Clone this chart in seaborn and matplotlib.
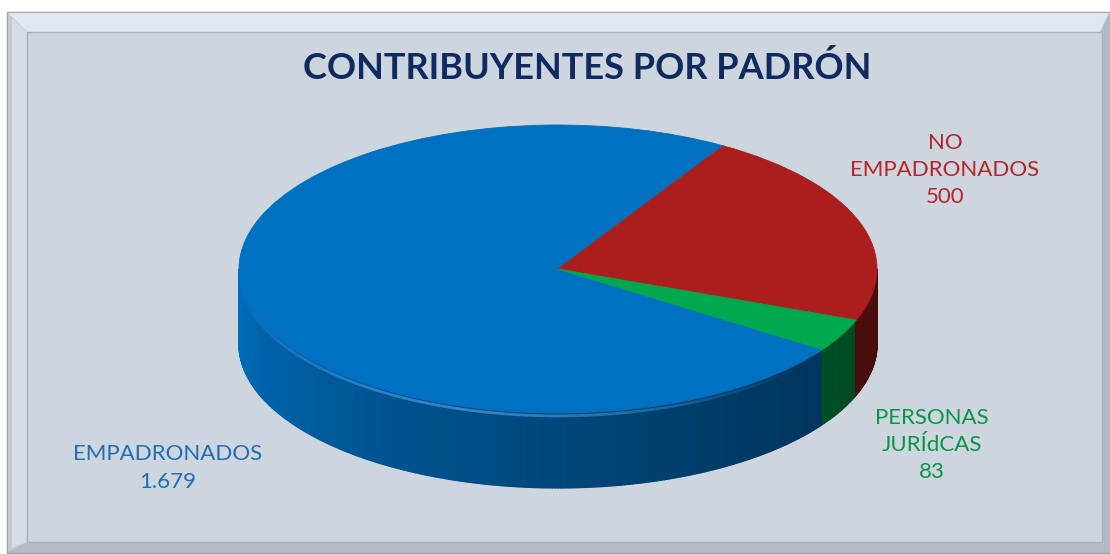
import numpy as np
import matplotlib
matplotlib.use("Agg")
import matplotlib.pyplot as plt
from matplotlib.patches import Rectangle, Polygon
from matplotlib.collections import PolyCollection, LineCollection
from matplotlib.colors import to_rgb
import seaborn as sns

# ---------------- data ----------------
categories = ["EMPADRONADOS", "NO\nEMPADRONADOS", "PERSONAS\nJURÍdCAS"]
values = [1679, 500, 83]
title = "CONTRIBUYENTES POR PADRÓN"

# ---------------- style ----------------
top_colors = sns.color_palette(["#0070C0", "#AC1E1E", "#00A84F"])
text_colors = ["#1F6DB5", "#B8232A", "#0B9543"]
label_pos = [(168, 468), (945, 170), (932, 445)]  # label centres, pixels

sns.set_theme(style="white")
plt.rcParams['font.family'] = ['Lato', 'DejaVu Sans']

W, H = 1110, 554
fig = plt.figure(figsize=(W / 100, H / 100), dpi=100)
fig.patch.set_facecolor("white")

bg = fig.add_axes([0, 0, 1, 1])
bg.set_xlim(0, W)
bg.set_ylim(H, 0)
bg.axis('off')

# frame with bevel
bg.add_patch(Rectangle((7, 12), 1103, 541, facecolor="#b3bbc5", edgecolor="#9aa2ac", lw=1))
bg.add_patch(Polygon([(8, 13), (1109, 13), (1100, 32), (27, 32)], closed=True,
                     facecolor="#e3e8ee", edgecolor="none"))
bg.add_patch(Polygon([(8, 13), (27, 32), (27, 542), (8, 552)], closed=True,
                     facecolor="#c3cad3", edgecolor="none"))
bg.add_patch(Polygon([(12, 18), (27, 32), (27, 542), (12, 548)], closed=True,
                     facecolor="#d6dce4", edgecolor="none"))
bg.add_patch(Rectangle((27, 32), 1075, 510, facecolor="#cdd5df", edgecolor="#a9b1bb", lw=1))

# ---------------- pie geometry ----------------
cx, cy, ax_px, by_px = 558, 269, 319, 144
xl = (-1.05, 1.05)
yl = (-1.72, 1.05)
left = cx + xl[0] * ax_px
right = cx + xl[1] * ax_px
top = cy - yl[1] * by_px
bottom = cy - yl[0] * by_px
pax = fig.add_axes([left / W, 1 - bottom / H, (right - left) / W, (bottom - top) / H])
pax.set_facecolor('none')

start = -34
thick = 0.52
total = float(sum(values))
cum = np.cumsum(values) / total * 360.0


def shade(c, f):
    k = 1 - 0.85 * f + 0.25 * f * f
    r, g, b = to_rgb(c)
    return (r * k, g * k, b * k)


# side wall, visible front half (-180..0 deg)
phis = np.linspace(-180, 0, 361)
rr = np.radians(phis)
outline = np.concatenate([np.column_stack([np.cos(rr), np.sin(rr)]),
                          np.column_stack([np.cos(rr[::-1]), np.sin(rr[::-1]) - thick])])
pax.add_patch(Polygon(outline, closed=True, facecolor="#0a3566", edgecolor="none", zorder=0.5))

polys, cols = [], []
for a, b in zip(phis[:-1], phis[1:]):
    mid = 0.5 * (a + b)
    d = (start - mid) % 360.0
    k = int(np.searchsorted(cum, d))
    k = min(k, len(values) - 1)
    f = (mid + 180) / 180.0
    ra, rb = np.radians(a), np.radians(b)
    polys.append([(np.cos(ra), np.sin(ra)), (np.cos(rb), np.sin(rb)),
                  (np.cos(rb), np.sin(rb) - thick), (np.cos(ra), np.sin(ra) - thick)])
    cols.append(shade(top_colors[k], f))
pax.add_collection(PolyCollection(polys, facecolors=cols, edgecolors=cols, linewidths=1.0, zorder=1))

# top face
wedges, _ = pax.pie(values, colors=top_colors, startangle=start, counterclock=False,
                    radius=1, center=(0, 0), frame=True)
for w in wedges:
    w.set_edgecolor(w.get_facecolor())
    w.set_linewidth(0.6)
    w.set_zorder(2)

# rim highlight on the front edge of the first slice
hl = np.radians(np.linspace(-178, start - 2, 200))
pts = np.column_stack([np.cos(hl), np.sin(hl) - 0.02])
segs = np.stack([pts[:-1], pts[1:]], axis=1)
alph = np.sin(np.linspace(0, np.pi, len(segs))) ** 1.5 * 0.6
lc = LineCollection(segs, colors=[(0.35, 0.65, 0.95, a) for a in alph], linewidths=2.0, zorder=3)
pax.add_collection(lc)

pax.set_aspect('auto')
pax.set_xlim(*xl)
pax.set_ylim(*yl)
pax.axis('off')

# ---------------- texts ----------------
bg.text(587, 68, title, ha='center', va='center', fontsize=26, fontweight='bold',
        color="#0F2A5E")


def fmt(v):
    return f"{v:,}".replace(",", ".")


for cat, v, col, (x, y) in zip(categories, values, text_colors, label_pos):
    bg.text(x, y, f"{cat}\n{fmt(v)}", ha='center', va='center', color=col,
            fontsize=16, linespacing=1.45)

fig.savefig("out.png", dpi=100)
